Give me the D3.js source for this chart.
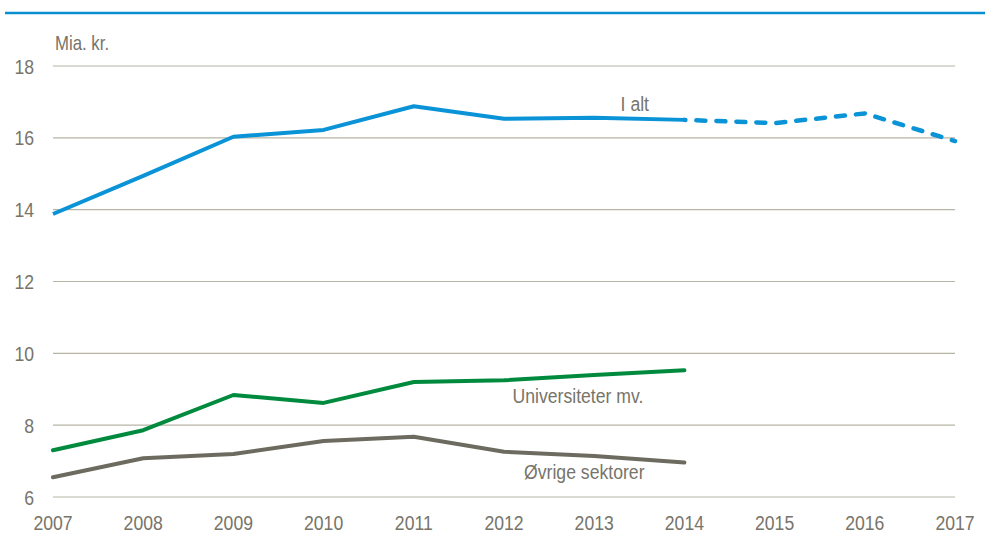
<!DOCTYPE html>
<html lang="da">
<head>
<meta charset="utf-8">
<title>Udgifter</title>
<script src="https://d3js.org/d3.v7.min.js"></script>
<style>
  body { margin: 0; background: #fff; }
  svg text { font-family: "Liberation Sans Narrow", "Arial Narrow", "Liberation Sans", Arial, sans-serif; fill: #77746a; }
</style>
</head>
<body>
<div id="chart"></div>
<script>
// data
var years = [2007, 2008, 2009, 2010, 2011, 2012, 2013, 2014, 2015, 2016, 2017];
var iAlt = [13.88, 14.94, 16.03, 16.22, 16.88, 16.53, 16.56, 16.5, 16.41, 16.68, 15.91];
var iAltLastActual = 2014; // after this the line is dashed
var universiteter = [7.3, 7.86, 8.84, 8.62, 9.2, 9.25, 9.4, 9.53];
var ovrige = [6.55, 7.08, 7.2, 7.56, 7.68, 7.26, 7.14, 6.96];
var yTicks = [6, 8, 10, 12, 14, 16, 18];

var W = 985, H = 548;
var margin = {top: 66, right: 30, bottom: 51, left: 53},
    width = 955 - margin.left,
    height = 497 - margin.top;

// no narrow font installed, so squeeze the normal one a bit
var squeeze = 0.84;

var svg = d3.select("#chart").append("svg")
    .attr("width", W)
    .attr("height", H);

// blue rule under the (cut off) title
svg.append("line")
    .attr("x1", 5).attr("x2", W)
    .attr("y1", 13).attr("y2", 13)
    .attr("stroke", "#0a8fd0")
    .attr("stroke-width", 2.5);

var g = svg.append("g")
    .attr("transform", "translate(" + margin.left + "," + margin.top + ")");

var x = d3.scaleLinear().domain([2007, 2017]).range([0, width]);
var y = d3.scaleLinear().domain([6, 18]).range([height, 0]);

function label(sel, px, py, txt, anchor, size) {
  return sel.append("text")
      .attr("transform", "translate(" + px + "," + py + ") scale(" + squeeze + ",1)")
      .attr("text-anchor", anchor)
      .style("font-size", (size || 21) + "px")
      .text(txt);
}

// gridlines
g.selectAll(".grid")
    .data(yTicks)
  .enter().append("line")
    .attr("class", "grid")
    .attr("x1", 0).attr("x2", width)
    .attr("y1", function(d) { return y(d); })
    .attr("y2", function(d) { return y(d); })
    .attr("stroke", "#b7b5a6")
    .attr("stroke-width", 1.2);

// y axis labels
yTicks.forEach(function(d) {
  label(g, -19, y(d) + 7.5, d, "end");
});

// x axis labels
years.forEach(function(d) {
  label(g, x(d), height + 33, d, "middle");
});

label(g, 2, -16, "Mia. kr.", "start", 20);

var line = d3.line()
    .x(function(d) { return x(d[0]); })
    .y(function(d) { return y(d[1]); });

function pairs(vals) {
  return vals.map(function(v, i) { return [years[i], v]; });
}

var allPts = pairs(iAlt);
var solid = allPts.filter(function(d) { return d[0] <= iAltLastActual; });
var dashed = allPts.filter(function(d) { return d[0] >= iAltLastActual; });

g.append("path").datum(pairs(ovrige))
    .attr("fill", "none").attr("stroke", "#6d6b5f").attr("stroke-width", 4)
    .attr("stroke-linejoin", "round").attr("stroke-linecap", "round")
    .attr("d", line);

g.append("path").datum(pairs(universiteter))
    .attr("fill", "none").attr("stroke", "#008a3e").attr("stroke-width", 4)
    .attr("stroke-linejoin", "round").attr("stroke-linecap", "round")
    .attr("d", line);

g.append("path").datum(solid)
    .attr("fill", "none").attr("stroke", "#0a93d6").attr("stroke-width", 4)
    .attr("stroke-linejoin", "round")
    .attr("d", line);

g.append("path").datum(dashed)
    .attr("fill", "none").attr("stroke", "#0a93d6").attr("stroke-width", 4.5)
    .attr("stroke-linejoin", "round").attr("stroke-linecap", "round")
    .attr("stroke-dasharray", "9,11")
    .attr("stroke-dashoffset", -12)
    .attr("d", line);

// series labels
label(g, x(2013.45), y(16.75), "I alt", "middle");
label(g, x(2012.82), y(8.61), "Universiteter mv.", "middle");
label(g, x(2012.89), y(6.5), "Øvrige sektorer", "middle");
</script>
</body>
</html>
